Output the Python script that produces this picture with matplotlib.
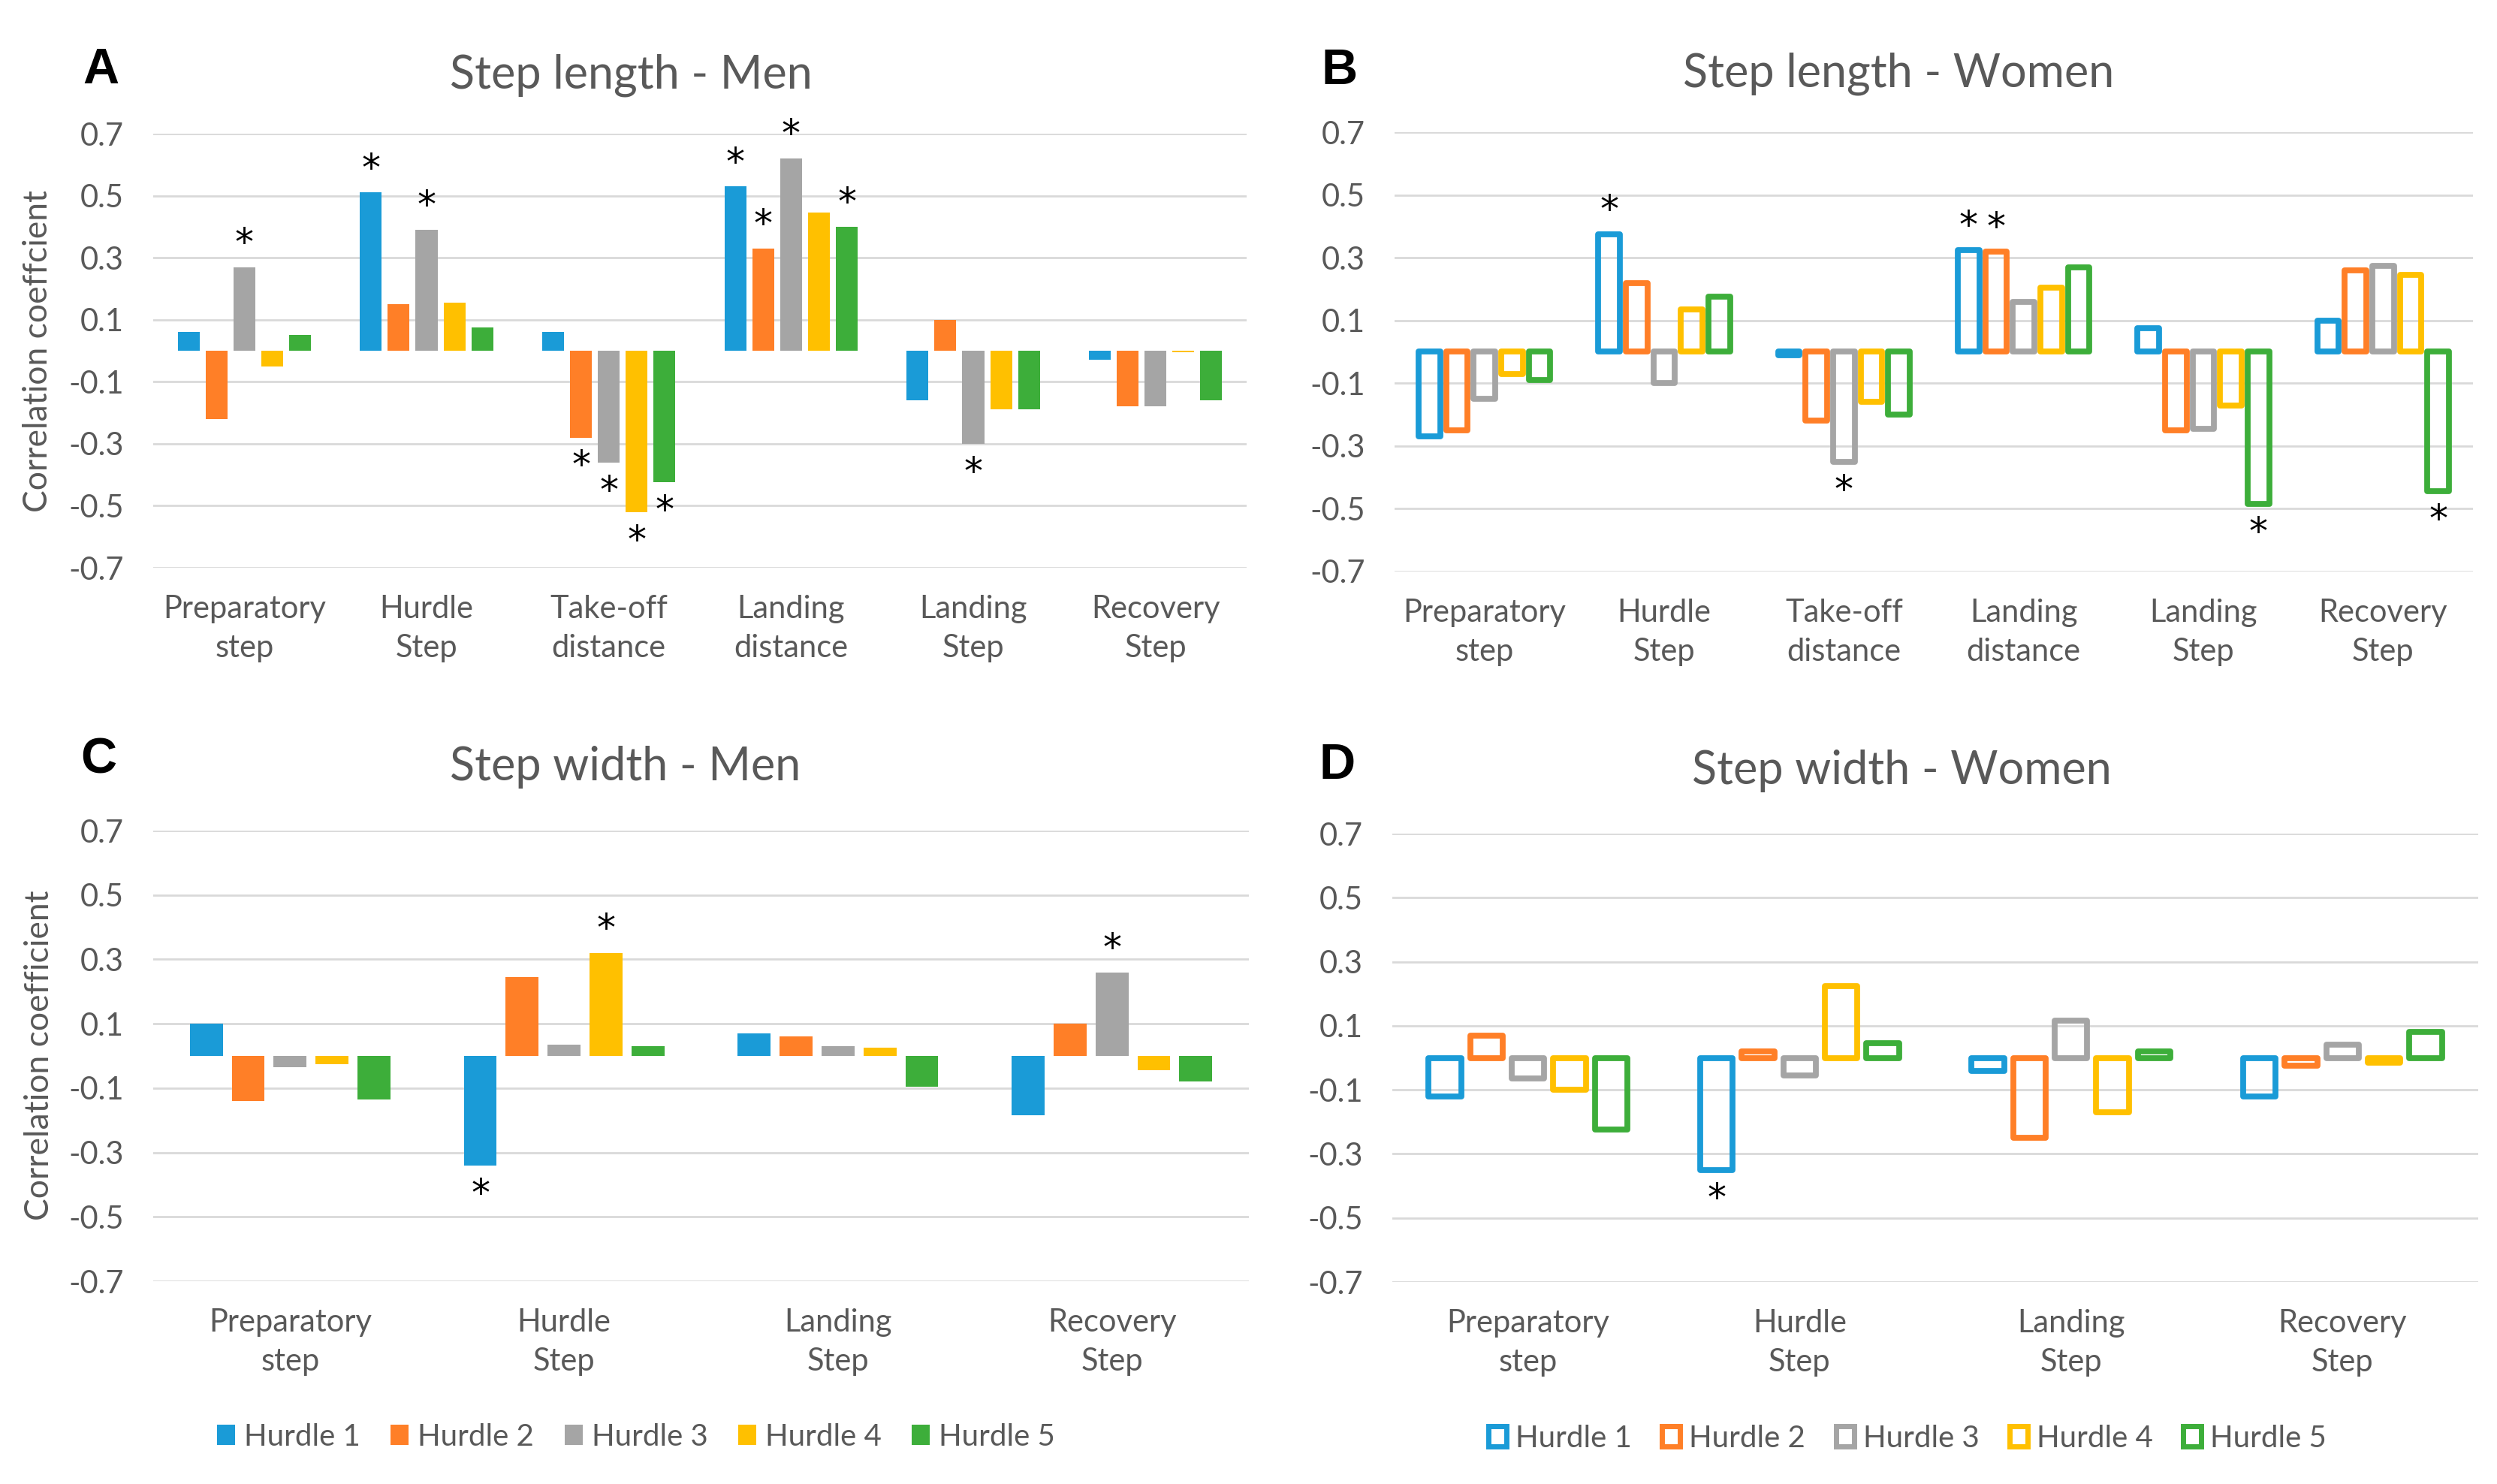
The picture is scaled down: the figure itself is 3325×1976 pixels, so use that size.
import numpy as np
import matplotlib
matplotlib.use("Agg")
import matplotlib.pyplot as plt
from matplotlib.patches import Patch

plt.rcParams['font.family'] = ['Lato', 'DejaVu Sans']

# ---------------- data ----------------
hurdles = ["Hurdle 1", "Hurdle 2", "Hurdle 3", "Hurdle 4", "Hurdle 5"]
colors = ["#1A9BD7", "#FF7F27", "#A5A5A5", "#FFC000", "#3DAE3A"]

cats_length = ["Preparatory\nstep", "Hurdle\nStep", "Take-off\ndistance",
               "Landing\ndistance", "Landing\nStep", "Recovery\nStep"]
cats_width = ["Preparatory\nstep", "Hurdle\nStep", "Landing\nStep", "Recovery\nStep"]

# A: Step length - Men
A_h1 = [0.06, 0.51, 0.06, 0.53, -0.16, -0.03]
A_h2 = [-0.22, 0.15, -0.28, 0.33, 0.10, -0.18]
A_h3 = [0.27, 0.39, -0.36, 0.62, -0.30, -0.18]
A_h4 = [-0.05, 0.155, -0.52, 0.445, -0.19, -0.005]
A_h5 = [0.05, 0.075, -0.425, 0.40, -0.19, -0.16]
A_stars = [(0, 2), (1, 0), (1, 2), (2, 1), (2, 2), (2, 3), (2, 4),
           (3, 0), (3, 1), (3, 2), (3, 4), (4, 2)]

# B: Step length - Women
B_h1 = [-0.27, 0.375, -0.01, 0.325, 0.075, 0.10]
B_h2 = [-0.25, 0.22, -0.22, 0.32, -0.25, 0.26]
B_h3 = [-0.15, -0.10, -0.35, 0.16, -0.245, 0.275]
B_h4 = [-0.07, 0.135, -0.16, 0.205, -0.17, 0.245]
B_h5 = [-0.09, 0.175, -0.20, 0.27, -0.485, -0.445]
B_stars = [(1, 0), (2, 2), (3, 0), (3, 1), (4, 4), (5, 4)]

# C: Step width - Men
C_h1 = [0.10, -0.34, 0.07, -0.185]
C_h2 = [-0.14, 0.245, 0.06, 0.10]
C_h3 = [-0.035, 0.035, 0.03, 0.26]
C_h4 = [-0.025, 0.32, 0.025, -0.045]
C_h5 = [-0.135, 0.03, -0.095, -0.08]
C_stars = [(1, 0), (1, 3), (3, 2)]

# D: Step width - Women
D_h1 = [-0.12, -0.35, -0.04, -0.12]
D_h2 = [0.07, 0.02, -0.25, -0.025]
D_h3 = [-0.065, -0.055, 0.115, 0.04]
D_h4 = [-0.10, 0.225, -0.17, -0.015]
D_h5 = [-0.225, 0.045, 0.02, 0.08]
D_stars = [(1, 0)]

yticks = [-0.7, -0.5, -0.3, -0.1, 0.1, 0.3, 0.5, 0.7]

TXT = "#595959"
W, H = 3325, 1976
fig = plt.figure(figsize=(W / 200, H / 200), dpi=200)


def rect(l, t, r, b):
    return [l / W, 1 - b / H, (r - l) / W, (b - t) / H]


def panel(pos, cats, series, stars, outline):
    ax = fig.add_axes(pos)
    n = len(cats)
    x = np.arange(n)
    slot = 0.153
    bw = 0.12
    for i, (vals, c) in enumerate(zip(series, colors)):
        xx = x + (i - 2) * slot
        if outline:
            ax.bar(xx, vals, width=bw, facecolor='none', edgecolor=c,
                   linewidth=2.8, joinstyle='round', zorder=3)
        else:
            ax.bar(xx, vals, width=bw, color=c, linewidth=0, zorder=3)
    for (ci, hi) in stars:
        v = series[hi][ci]
        xx = ci + (hi - 2) * slot
        off = 11 if v >= 0 else -14
        ax.annotate("*", (xx, v), xytext=(0, off), textcoords='offset points',
                    ha='center', va='center', fontsize=18, color='black',
                    fontfamily='DejaVu Sans', zorder=4)
    ax.set_xlim(-0.5, n - 0.5)
    ax.set_ylim(-0.7, 0.7)
    ax.set_yticks(yticks)
    ax.set_yticklabels([f"{t:.1f}" for t in yticks])
    ax.set_xticks(x)
    ax.set_xticklabels(cats, linespacing=1.45)
    ax.tick_params(axis='both', length=0, labelsize=15, labelcolor=TXT)
    ax.tick_params(axis='x', pad=13)
    ax.tick_params(axis='y', pad=14)
    ax.yaxis.grid(True, color='#D9D9D9', linewidth=1.0, zorder=0)
    ax.set_axisbelow(True)
    for s in ax.spines.values():
        s.set_visible(False)
    return ax


panel(rect(204, 178, 1660, 756), cats_length, [A_h1, A_h2, A_h3, A_h4, A_h5], A_stars, False)
panel(rect(1857, 176, 3293, 761), cats_length, [B_h1, B_h2, B_h3, B_h4, B_h5], B_stars, True)
panel(rect(204, 1106, 1663, 1706), cats_width, [C_h1, C_h2, C_h3, C_h4, C_h5], C_stars, False)
panel(rect(1854, 1110, 3300, 1707), cats_width, [D_h1, D_h2, D_h3, D_h4, D_h5], D_stars, True)

# titles
fig.text(840 / W, 1 - 100 / H, "Step length - Men", ha='center', va='center', fontsize=22, color=TXT)
fig.text(2528 / W, 1 - 98 / H, "Step length - Women", ha='center', va='center', fontsize=22, color=TXT)
fig.text(833 / W, 1 - 1022 / H, "Step width - Men", ha='center', va='center', fontsize=22, color=TXT)
fig.text(2532 / W, 1 - 1026 / H, "Step width - Women", ha='center', va='center', fontsize=22, color=TXT)

# panel letters
for lab, (px, py) in zip("ABCD", [(134, 94), (1784, 95), (131, 1013), (1781, 1020)]):
    fig.text(px / W, 1 - py / H, lab, ha='center', va='center', fontsize=24,
             fontweight='bold', color='black', fontfamily=['Liberation Sans', 'DejaVu Sans'])

# y labels
fig.text(51 / W, 1 - 467 / H, "Correlation coeffcient", rotation=90, ha='center', va='center',
         fontsize=16, color=TXT)
fig.text(53 / W, 1 - 1405 / H, "Correlation coefficient", rotation=90, ha='center', va='center',
         fontsize=16, color=TXT)

# legends
hC = [Patch(facecolor=c, edgecolor='none') for c in colors]
hD = [Patch(facecolor='white', edgecolor=c, linewidth=2.5, joinstyle='round') for c in colors]
leg_kw = dict(ncol=5, frameon=False, fontsize=14.5, handlelength=0.6, handleheight=0.65,
              handletextpad=0.3, columnspacing=1.0, loc='center', labelcolor=TXT)
fig.legend(hC, hurdles, bbox_to_anchor=(847 / W, 1 - 1913 / H), **leg_kw)
fig.legend(hD, hurdles, bbox_to_anchor=(2540 / W, 1 - 1915 / H), **leg_kw)

fig.savefig("out.png", dpi=200, facecolor='white')
